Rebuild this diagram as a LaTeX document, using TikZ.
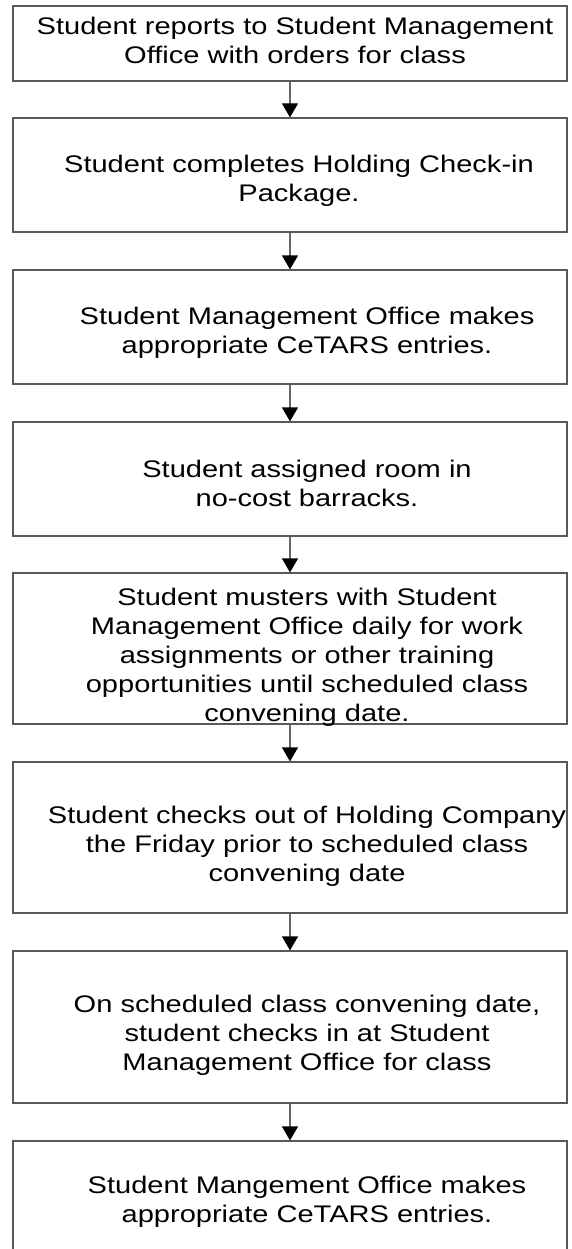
\documentclass[tikz,border=0pt]{standalone}
\usepackage{fontspec}
\setmainfont{Liberation Sans}[FakeStretch=1.21]
\usetikzlibrary{arrows.meta}

\begin{document}
\begin{tikzpicture}[x=1pt, y=1pt,
  stepbox/.style={draw=black!65, line width=1.2pt, minimum width=554pt, inner sep=0pt},
  steptext/.style={anchor=base, align=center, inner sep=0pt, font=\fontsize{24}{29}\selectfont},
  flow/.style={draw=black!60, line width=1.2pt, -{Triangle[length=14pt, width=16pt, black]}}]
\useasboundingbox (0, 0) rectangle (571, -1249);
\clip (0, 0) rectangle (571, -1249);

\node[stepbox, minimum height=75pt] (report) at (290, -43.5) {};
\node[stepbox, minimum height=114pt] (checkin) at (290, -175) {};
\node[stepbox, minimum height=114pt] (entries) at (290, -327) {};
\node[stepbox, minimum height=114pt] (room) at (290, -479) {};
\node[stepbox, minimum height=151pt] (muster) at (290, -648.5) {};
\node[stepbox, minimum height=151pt] (checkout) at (290, -837.5) {};
\node[stepbox, minimum height=152pt] (convene) at (290, -1027) {};
\node[stepbox, minimum height=114pt] (final) at (290, -1198) {};

% base anchor sits on the last line
\node[steptext] (report-txt) at (295, -64) {Student reports to Student Management\\Office with orders for class};
\node[steptext] (checkin-txt) at (299, -202) {Student completes Holding Check-in\\Package.};
\node[steptext] (entries-txt) at (307, -353) {Student Management Office makes\\appropriate CeTARS entries.};
\node[steptext] (room-txt) at (307, -506) {Student assigned room in\\no-cost barracks.};
\node[steptext] (muster-txt) at (307, -721) {Student musters with Student\\Management Office daily for work\\assignments or other training\\opportunities until scheduled class\\convening date.};
\node[steptext] (checkout-txt) at (307, -881) {Student checks out of Holding Company\\the Friday prior to scheduled class\\convening date};
\node[steptext] (convene-txt) at (307, -1070) {On scheduled class convening date,\\student checks in at Student\\Management Office for class};
\node[steptext] (final-txt) at (307, -1222) {Student Mangement Office makes\\appropriate CeTARS entries.};

\draw[flow] (report) -- (checkin);
\draw[flow] (checkin) -- (entries);
\draw[flow] (entries) -- (room);
\draw[flow] (room) -- (muster);
\draw[flow] (muster) -- (checkout);
\draw[flow] (checkout) -- (convene);
\draw[flow] (convene) -- (final);
\end{tikzpicture}
\end{document}
